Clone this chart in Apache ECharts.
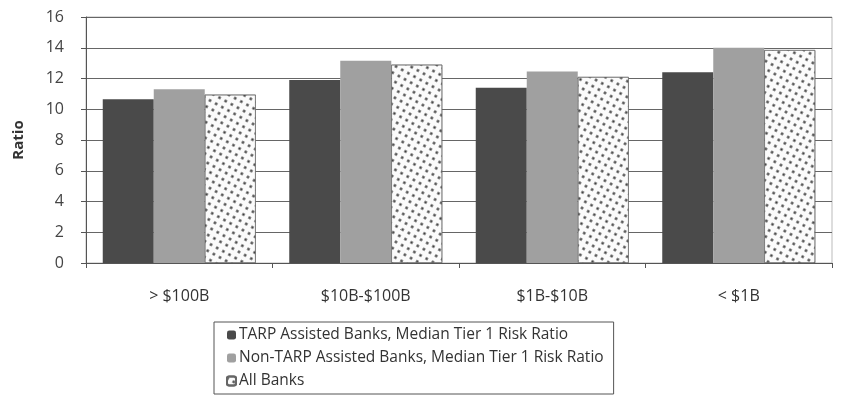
<!DOCTYPE html>
<html>
<head>
<meta charset="utf-8">
<script src="https://cdn.jsdelivr.net/npm/echarts@6/dist/echarts.min.js"></script>
<style>
  html, body { margin: 0; padding: 0; background: #fff; }
  #chart { width: 841px; height: 400px; }
</style>
</head>
<body>
<div id="chart"></div>
<script>
var categories = ['> $100B', '$10B-$100B', '$1B-$10B', '< $1B'];
var tarpBanks = [10.65, 11.9, 11.4, 12.4];
var nonTarpBanks = [11.3, 13.15, 12.45, 14.0];
var allBanks = [10.95, 12.9, 12.1, 13.85];
var seriesNames = [
  'TARP Assisted Banks, Median Tier 1 Risk Ratio',
  'Non-TARP Assisted Banks, Median Tier 1 Risk Ratio',
  'All Banks'
];

var chart = echarts.init(document.getElementById('chart'));

var font = '"Open Sans", sans-serif';

var option = {
  animation: false,
  grid: {
    left: 86,
    right: 9,
    top: 17,
    bottom: 137,
    show: true,
    borderColor: '#bbb',
    borderWidth: 1
  },
  legend: {
    orient: 'vertical',
    left: 214,
    top: 322,
    width: 398,
    padding: [5, 10, 5, 12],
    itemWidth: 9,
    itemHeight: 9,
    itemGap: 7,
    borderColor: '#555',
    borderWidth: 1,
    textStyle: { fontFamily: font, fontSize: 15.5, lineHeight: 16, color: '#333', padding: [0, 0, 0, -2] },
    data: seriesNames
  },
  xAxis: {
    type: 'category',
    data: categories,
    axisLine: { lineStyle: { color: '#555' } },
    axisTick: { show: true, length: 5, lineStyle: { color: '#555' } },
    axisLabel: { fontFamily: font, fontSize: 16, color: '#333', margin: 25 }
  },
  yAxis: {
    type: 'value',
    min: 0,
    max: 16,
    interval: 2,
    name: 'Ratio',
    nameLocation: 'middle',
    nameGap: 60,
    nameTextStyle: { fontFamily: font, fontSize: 15, fontWeight: 'bold', color: '#333' },
    axisLine: { show: true, lineStyle: { color: '#555' } },
    axisTick: { show: true, length: 5, lineStyle: { color: '#555' } },
    axisLabel: { fontFamily: font, fontSize: 16, color: '#444', margin: 22 },
    splitLine: { lineStyle: { color: '#666', width: 1 } }
  },
  series: [
    {
      name: seriesNames[0],
      type: 'bar',
      data: tarpBanks,
      barWidth: 51,
      barGap: '0%',
      itemStyle: { color: '#4a4a4a' }
    },
    {
      name: seriesNames[1],
      type: 'bar',
      data: nonTarpBanks,
      barWidth: 51,
      barGap: '0%',
      itemStyle: { color: '#a0a0a0' }
    },
    {
      name: seriesNames[2],
      type: 'bar',
      data: allBanks,
      barWidth: 51,
      barGap: '0%',
      itemStyle: {
        color: '#fbfbfb',
        borderColor: '#666',
        borderWidth: 0.6,
        decal: {
          symbol: 'rect',
          symbolSize: 0.8,
          color: '#3a3a3a',
          dashArrayX: [[2.5, 3.5]],
          dashArrayY: [2.5, 3.5],
          rotation: 0.5
        }
      }
    }
  ]
};

chart.setOption(option);
</script>
</body>
</html>
